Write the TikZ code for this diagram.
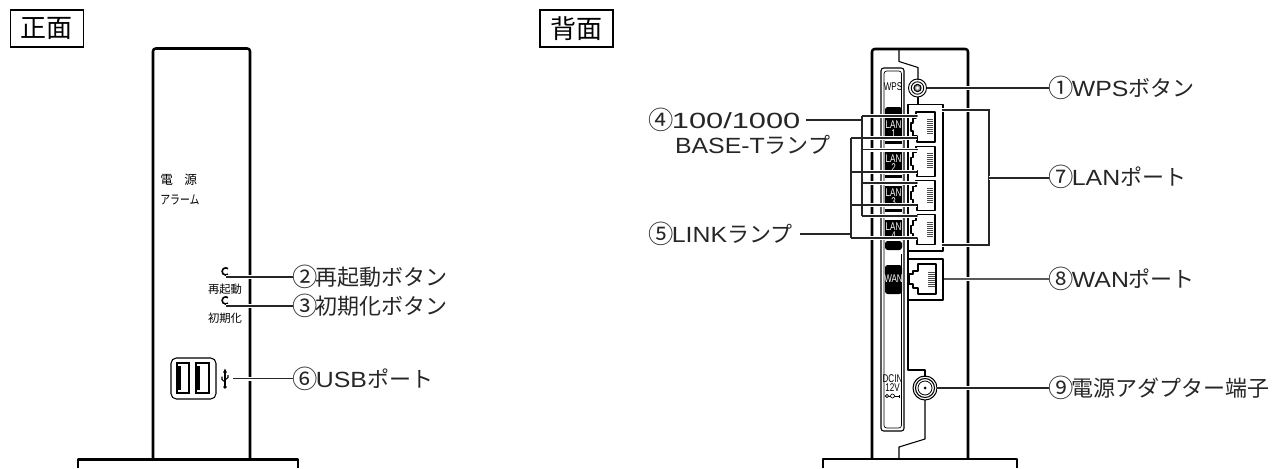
\documentclass[tikz,border=0pt]{standalone}
\usepackage{fontspec}
\setmainfont{Noto Sans CJK JP}
\newfontfamily\lat[FakeStretch=1.13]{Liberation Sans}
\newfontfamily\dig[FakeStretch=1.4]{Liberation Sans}
\newfontfamily\narrow[FakeStretch=0.72]{Liberation Sans}
\newcommand{\cd}[1]{\makebox[0.95em][c]{\raisebox{-0.03em}{\scalebox{1.15}{#1}}}}
\tikzset{
 lab/.style={anchor=west,inner sep=0pt,outer sep=1.5pt,font=\fontsize{16.5}{18}\selectfont,text=black!85},
 titlebox/.style={draw=black,line width=1.1pt,minimum width=55pt,minimum height=28pt,inner sep=0pt,font=\fontsize{19.5}{20}\selectfont},
 tiny/.style={inner sep=0pt,font=\fontsize{8.5}{9}\selectfont},
 tinylat/.style={inner sep=0pt,font=\narrow\fontsize{8.4}{8}\selectfont},
 body/.style={line width=1.9pt,line join=round},
 thinl/.style={line width=0.8pt,line join=round},
 lead/.style={line width=0.85pt,black!85,preaction={draw=white,line width=3pt}},
}
\begin{document}
\begin{tikzpicture}[x=0.75pt,y=-0.75pt]
\useasboundingbox (0,0) rectangle (1275,468);
% ---------- titles
\node[titlebox] (t1) at (47,28.5) {正面};
\node[titlebox] (t2) at (576.5,28.5) {背面};
% ---------- FRONT
\draw[body,rounded corners=2pt] (153,459) -- (153,48.5) -- (250,48.5) -- (250,459);
\draw[body] (78,468) -- (78,459.5) -- (298,459.5) -- (298,468);
\node[tiny,anchor=west,font=\fontsize{9.5}{10}\selectfont] (pw1) at (160,180) {電};
\node[tiny,anchor=west,font=\fontsize{9.5}{10}\selectfont] (pw2) at (184,180) {源};
\node[tiny,anchor=west] (al) at (160,199.5) {\scalebox{0.78}[1]{\fontsize{9.5}{10}\selectfont アラーム}};
\node[tiny] (rb) at (225,289) {再起動};
\node[tiny] (ib) at (225,318) {初期化};
\coordinate (b2) at (226,277);
\coordinate (b3) at (226,306);
\draw[line width=1.2pt] (228,274.2) arc (50:310:3.6);
\draw[line width=1.2pt] (228,303.2) arc (50:310:3.6);
\draw[thinl,rounded corners=4pt] (171,358) rectangle (216,399);
\draw[line width=1pt] (177,363) rectangle (189,393);
\draw[line width=1pt] (196,363) rectangle (209,393);
\fill (177,366) rectangle (180.5,390);
\fill (196,366) rectangle (199.5,390);
% usb sign
\coordinate (u) at (233,378.5);
\draw[line width=0.9pt] (225,371) -- (225,386);
\fill (225,368.5) -- (223,372.5) -- (227,372.5) -- cycle;
\fill (225,387) circle (1.8);
\draw[line width=0.8pt] (225,382) -- (222,379.5) -- (222,376.5);
\draw[line width=0.8pt] (225,380) -- (228,377.5) -- (228,375);
\node[lab] (l2) at (293,277) {\cd{②}再起動ボタン};
\node[lab] (l3) at (293,306) {\cd{③}初期化ボタン};
\node[lab] (l6) at (293,379) {\cd{⑥}{\lat USB}ポート};
\draw[lead] (b2) -- (l2.west);
\draw[lead] (b3) -- (l3.west);
\draw[lead] (u) -- (u -| l6.west);
% ---------- BACK body
\draw[body,rounded corners=2pt] (872,458.5) -- (872,49) -- (968,49) -- (968,458.5);
\draw[body] (823,468) -- (823,459) -- (1017,459) -- (1017,468);
\draw[thinl] (899,49) -- (899,61.5) -- (918,67.5) -- (918,80);
\draw[thinl] (918,97) -- (918,104.5) -- (943,104.5) -- (943,251) -- (908,251);
\draw[thinl] (918,104.5) -- (908,104.5) -- (908,370) -- (925,370) -- (925,377);
\draw[thinl] (925,400) -- (925,439) -- (899,447) -- (899,458);
% slot panel
\draw[thinl,rounded corners=2pt] (881,431) -- (881,68) -- (904,68) -- (904,431) -- cycle;
\draw[thinl,line width=0.5pt,rounded corners=2pt] (884,428) -- (884,71) -- (901.5,71) -- (901.5,428) -- cycle;
\node[tinylat] (wps) at (893,87) {WPS};
% black blocks
\fill[rounded corners=2pt] (885,107) rectangle (902,250);
\fill[white] (885,114) rectangle (902,118);
\foreach \i/\n in {0/1,1/2,2/3,3/4}{
  \fill[white] (885,137+34*\i) rectangle (902,141+34*\i);
  \fill[white] (885,143.5+34*\i) rectangle (902,152+34*\i);
  \node[tinylat,text=white] at (893.5,125+34*\i) {LAN};
  \node[tinylat,text=white] at (893.5,134+34*\i) {\n};
}
\fill[black,rounded corners=2pt] (885,241) rectangle (902,250);
\fill[rounded corners=2pt] (885,265) rectangle (902,294);
\node[tinylat,text=white] (wan) at (893.5,279) {WAN};
\node[tinylat] (dc1) at (892.5,379) {DCIN};
\node[tinylat] (dc2) at (892.5,387.5) {12V};
\draw[line width=0.5pt] (885,396) -- (900,396);
\draw[line width=0.5pt,fill=white] (887,396) circle (1.6) (892.5,396) circle (2);
\draw[line width=0.5pt] (899,394.5) -- (899,397.5);
% jacks
\foreach \i in {0,1,2,3}{
 \begin{scope}[shift={(912,112+34.3*\i)}]
  \draw[thinl,fill=white] (4,0) -- (23,0) -- (23,30) -- (5,30) -- (5,24) -- (1,24) -- (1,19) -- (-1,19) -- (-1,11) -- (1,11) -- (1,6) -- (4,6) -- cycle;
  \foreach \k in {0,1,...,7} \draw[line width=0.5pt,black!70] (15,7.5+2*\k) -- (21,7.5+2*\k);
 \end{scope}
}
% WAN jack
\draw[thinl] (908,259) -- (943,259) -- (943,300) -- (908,300);
\begin{scope}[shift={(909,264)}]
 \draw[thinl,fill=white] (9,0) -- (27,0) -- (27,30) -- (9,30) -- (9,24) -- (4,24) -- (4,20) -- (0,20) -- (0,10) -- (4,10) -- (4,7) -- (9,7) -- cycle;
 \foreach \k in {0,1,...,7} \draw[line width=0.5pt,black!70] (19,8+2*\k) -- (26,8+2*\k);
\end{scope}
% rings
\draw[line width=0.7pt] (917.5,88) circle (9) (917.5,88) circle (6.2);
\draw[line width=0.8pt,fill=black!40] (917.5,88) circle (3.6);
\fill[white] (917.5,88) circle (1.6);
\draw[line width=0.8pt] (925,388) circle (12) (925,388) circle (9.5);
\draw[line width=0.6pt] (925,388) circle (7);
\fill (925,388) circle (1.5);
% ---------- back labels
\node[lab] (l1) at (1049,88) {\cd{①}{\lat WPS}ボタン};
\node[lab] (l7) at (1049,177) {\cd{⑦}{\lat LAN}ポート};
\node[lab] (l8) at (1049,279) {\cd{⑧}{\lat WAN}ポート};
\node[lab] (l9) at (1049,388) {\cd{⑨}電源アダプター端子};
\node[lab] (l4) at (649,120) {\cd{④}{\dig 100/1000}};
\node[lab] (l4b) at (673,145) {{\lat BASE-T}ランプ};
\node[lab] (l5) at (649,234) {\cd{⑤}{\lat LINK}ランプ};
% leaders
\coordinate (w1) at (927,88);
\coordinate (p9) at (937,388);
\coordinate (p8) at (944,279);
\coordinate (k4) at (862,120);
\coordinate (k5) at (851,234);
\coordinate (br) at (989,178);
\draw[lead] (w1) -- (l1.west);
\draw[lead,line width=1.2pt,black!65] (p8) -- (p8 -| l8.west);
\draw[lead] (p9) -- (p9 -| l9.west);
\draw[lead] (942,110) -- (989,110) -- (989,245) -- (942,245);
\draw[lead] (br) -- (br -| l7.west);
\draw[lead] (806,120) -- (k4);
\draw[lead] (800,234) -- (k5);
\foreach \y in {116,149.5,183,216}{
  \draw[lead] (862,\y) -- (917,\y);
  \fill (917,\y) circle (0.9);
}
\foreach \y in {138,172,205,238}{
  \draw[lead] (851,\y) -- (917,\y);
  \fill (917,\y) circle (0.9);
}
\draw[line width=0.85pt,black!85] (862,116) -- (862,216);
\draw[line width=0.85pt,black!85] (851,138) -- (851,238);
\end{tikzpicture}
\end{document}
